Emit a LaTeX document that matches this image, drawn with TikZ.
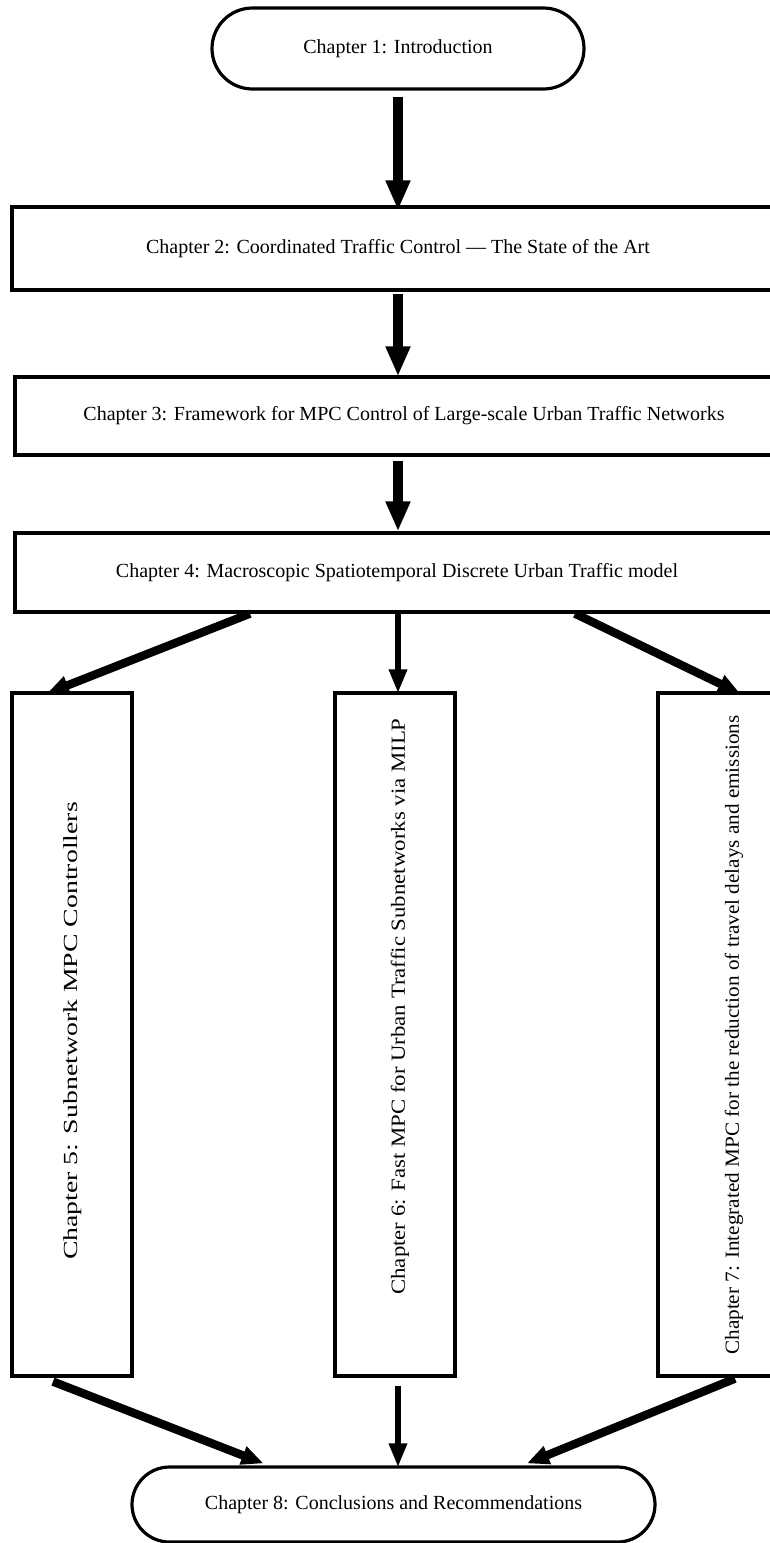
\documentclass[tikz,border=0pt]{standalone}
\usepackage{fontspec}
\setmainfont{Liberation Serif}
\usetikzlibrary{arrows.meta,shapes.misc,calc}
\begin{document}
\begin{tikzpicture}[x=0.5pt,y=-0.5pt,
  box/.style={draw,line width=1.6pt,rectangle,inner sep=0pt,font=\fontsize{10}{12}\selectfont},
  pill/.style={draw,line width=1.6pt,rounded rectangle,inner sep=0pt,font=\fontsize{10}{12}\selectfont},
  vtext/.style={rotate=90,inner sep=0pt,font=\fontsize{10}{12}\selectfont},
  bigarrow/.style={line width=5pt,-{Triangle[length=15pt,width=11.5pt]}},
  midarrow/.style={line width=3.2pt,-{Triangle[length=12pt,width=8.5pt]}},
  diagarrow/.style={line width=4.2pt,-{Triangle[length=11pt,width=9pt]}}]
\useasboundingbox (0,0) rectangle (770,1543);
\clip (0,0) rectangle (770,1543);
\node[pill,minimum width=186pt,minimum height=40.5pt] (ch1) at (398,48.5) {\raisebox{-0.5pt}{Chapter 1: Introduction}};
\node[box,minimum width=386pt,minimum height=41.5pt] (ch2) at (398,248.5) {\raisebox{-2.5pt}{Chapter 2: Coordinated Traffic Control — The State of the Art}};
\node[box,minimum width=389pt,minimum height=39pt] (ch3) at (404,416) {\raisebox{-2pt}{Chapter 3: Framework for MPC Control of Large-scale Urban Traffic Networks}};
\node[box,minimum width=382pt,minimum height=39.5pt] (ch4) at (397,572.5) {\raisebox{-1.5pt}{Chapter 4: Macroscopic Spatiotemporal Discrete Urban Traffic model}};
\node[box,minimum width=60pt,minimum height=341.5pt] (ch5) at (72,1034.5) {};
\node[vtext,xscale=1.39] (t5) at ($(ch5.center)+(1,-3.5)$) {Chapter 5: Subnetwork MPC Controllers};
\node[box,minimum width=60pt,minimum height=341.5pt] (ch6) at (395,1034.5) {};
\node[vtext,xscale=1.14] (t6) at ($(ch6.center)+(5,-28)$) {Chapter 6: Fast MPC for Urban Traffic Subnetworks via MILP};
\node[box,minimum width=72pt,minimum height=341.5pt] (ch7) at (730,1034.5) {};
\node[vtext,xscale=1.06] (t7) at ($(ch7.center)+(4,0.5)$) {Chapter 7: Integrated MPC for the reduction of travel delays and emissions};
\node[pill,minimum width=261.5pt,minimum height=37.5pt] (ch8) at (393.5,1504.5) {\raisebox{-2pt}{Chapter 8: Conclusions and Recommendations}};

\draw[bigarrow] ($(ch1.south)+(0,6)$) -- ($(ch2.north)+(0,5)$);
\draw[bigarrow] ($(ch2.south)+(0,2)$) -- ($(ch3.north)+(-6,1)$);
\draw[bigarrow] ($(ch3.south)+(-6,4)$) -- ($(ch4.north)+(1,0)$);
\draw[diagarrow] ($(ch4.south)+(-147,0)$) -- ($(ch5.north)+(-25,2)$);
\draw[midarrow] ($(ch4.south)+(1,0)$) -- ($(ch6.north)+(3,2)$);
\draw[diagarrow] ($(ch4.south)+(178,0)$) -- ($(ch7.north)+(10,2)$);
\draw[diagarrow] ($(ch5.south)+(-19,4)$) -- ($(ch8.north)+(-130,-2)$);
\draw[midarrow] ($(ch6.south)+(3,8)$) -- ($(ch8.north)+(4.5,2)$);
\draw[diagarrow] ($(ch7.south)+(5,1)$) -- ($(ch8.north)+(133.5,-2)$);
\end{tikzpicture}
\end{document}
